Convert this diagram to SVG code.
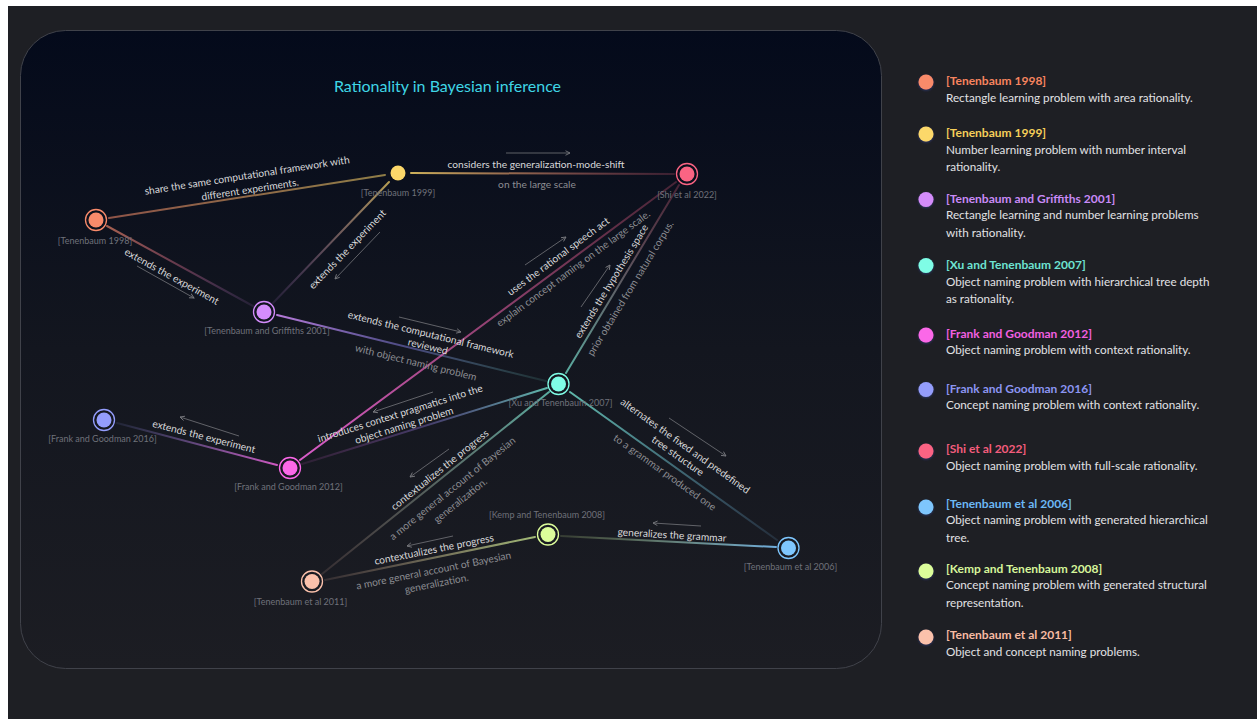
<svg xmlns="http://www.w3.org/2000/svg" width="1257" height="719" viewBox="0 0 1257 719">
<defs>
<style>
.el{font-family:Lato,"Liberation Sans",sans-serif;font-size:10.2px;fill:#d8d8da;text-anchor:middle;dominant-baseline:central}
.es{fill:#8c8d92}
.nl{font-family:Lato,"Liberation Sans",sans-serif;font-size:9px;fill:#6f717a;text-anchor:middle}
.lt{font-family:Lato,"Liberation Sans",sans-serif;font-size:12px;font-weight:bold}
.ld{font-family:Lato,"Liberation Sans",sans-serif;font-size:11.7px;fill:#e2e2e4}
.edge{fill:none;stroke-width:2;stroke-linecap:round}
.arr{fill:none;stroke:#6a6b70;stroke-width:0.9;marker-end:url(#ah)}
.ring{fill:none;stroke-width:1.3}
</style>
<marker id="ah" viewBox="0 0 8 8" refX="7" refY="4" markerWidth="6" markerHeight="6" markerUnits="userSpaceOnUse" orient="auto">
<path d="M1,1 L7,4 L1,7" fill="none" stroke="#77787d" stroke-width="1.2"/>
</marker>
<linearGradient id="panel" x1="0" y1="0" x2="0" y2="1">
<stop offset="0" stop-color="#040a1b"/>
<stop offset="0.5" stop-color="#13161f"/>
<stop offset="1" stop-color="#1c1d23"/>
</linearGradient>
<filter id="glow" x="-50%" y="-50%" width="200%" height="200%">
<feDropShadow dx="0" dy="1" stdDeviation="1.2" flood-color="#2a3a7a" flood-opacity="0.8"/>
</filter>
<linearGradient id="g1" gradientUnits="userSpaceOnUse" x1="109" y1="218" x2="385" y2="175"><stop offset="0" stop-color="#f98b6b" stop-opacity="0.55"/><stop offset="1" stop-color="#fcd86a" stop-opacity="0.55"/></linearGradient>
<linearGradient id="g2" gradientUnits="userSpaceOnUse" x1="411" y1="173" x2="674" y2="174"><stop offset="0" stop-color="#fcd86a" stop-opacity="0.8"/><stop offset="1" stop-color="#fb6483" stop-opacity="0.2"/></linearGradient>
<linearGradient id="g3" gradientUnits="userSpaceOnUse" x1="107" y1="226" x2="253" y2="306"><stop offset="0" stop-color="#f98b6b" stop-opacity="0.65"/><stop offset="0.5" stop-color="#e07090" stop-opacity="0.4"/><stop offset="1" stop-color="#d48cfb" stop-opacity="0.1"/></linearGradient>
<linearGradient id="g4" gradientUnits="userSpaceOnUse" x1="273" y1="303" x2="389" y2="182"><stop offset="0" stop-color="#d48cfb" stop-opacity="0.1"/><stop offset="1" stop-color="#fcd86a" stop-opacity="0.7"/></linearGradient>
<linearGradient id="g5" gradientUnits="userSpaceOnUse" x1="277" y1="315" x2="546" y2="381"><stop offset="0" stop-color="#d48cfb" stop-opacity="0.85"/><stop offset="0.5" stop-color="#8a86f0" stop-opacity="0.45"/><stop offset="1" stop-color="#7ffde6" stop-opacity="0.1"/></linearGradient>
<linearGradient id="g6" gradientUnits="userSpaceOnUse" x1="300" y1="460" x2="676" y2="182"><stop offset="0" stop-color="#fb68e8" stop-opacity="0.85"/><stop offset="1" stop-color="#fb6483" stop-opacity="0.25"/></linearGradient>
<linearGradient id="g7" gradientUnits="userSpaceOnUse" x1="566" y1="373" x2="679" y2="185"><stop offset="0" stop-color="#7ffde6" stop-opacity="0.65"/><stop offset="1" stop-color="#fb6483" stop-opacity="0.25"/></linearGradient>
<linearGradient id="g8" gradientUnits="userSpaceOnUse" x1="547" y1="388" x2="302" y2="464"><stop offset="0" stop-color="#7ffde6" stop-opacity="0.7"/><stop offset="0.5" stop-color="#9a80f0" stop-opacity="0.35"/><stop offset="1" stop-color="#fb68e8" stop-opacity="0.1"/></linearGradient>
<linearGradient id="g9" gradientUnits="userSpaceOnUse" x1="117" y1="423" x2="277" y2="465"><stop offset="0" stop-color="#949dfc" stop-opacity="0.1"/><stop offset="1" stop-color="#fb68e8" stop-opacity="0.8"/></linearGradient>
<linearGradient id="g10" gradientUnits="userSpaceOnUse" x1="549" y1="392" x2="322" y2="574"><stop offset="0" stop-color="#7ffde6" stop-opacity="0.65"/><stop offset="1" stop-color="#fbc1ab" stop-opacity="0.12"/></linearGradient>
<linearGradient id="g11" gradientUnits="userSpaceOnUse" x1="570" y1="392" x2="777" y2="540"><stop offset="0" stop-color="#7ffde6" stop-opacity="0.7"/><stop offset="1" stop-color="#7ec6fd" stop-opacity="0.12"/></linearGradient>
<linearGradient id="g12" gradientUnits="userSpaceOnUse" x1="535" y1="537" x2="325" y2="580"><stop offset="0" stop-color="#dcfd9a" stop-opacity="0.7"/><stop offset="1" stop-color="#fbc1ab" stop-opacity="0.12"/></linearGradient>
<linearGradient id="g13" gradientUnits="userSpaceOnUse" x1="776" y1="547" x2="561" y2="536"><stop offset="0" stop-color="#7ec6fd" stop-opacity="0.85"/><stop offset="1" stop-color="#dcfd9a" stop-opacity="0.15"/></linearGradient>
</defs>

<rect x="0" y="0" width="1257" height="719" fill="#ffffff"/>
<rect x="8" y="6" width="1249" height="713" fill="#1e1f24"/>
<rect x="20.5" y="30.5" width="861" height="638" rx="45" ry="45" fill="url(#panel)" stroke="#40424a" stroke-width="1"/>

<text x="447.5" y="91.5" font-family="Lato,'Liberation Sans',sans-serif" font-size="16" fill="#3fd6e6" text-anchor="middle">Rationality in Bayesian inference</text>

<g id="connectors">
<line class="edge" x1="109" y1="218" x2="385" y2="175" stroke="url(#g1)"/>
<line class="edge" x1="411" y1="173" x2="674" y2="174" stroke="url(#g2)"/>
<line class="edge" x1="107" y1="226" x2="253" y2="306" stroke="url(#g3)"/>
<line class="edge" x1="273" y1="303" x2="389" y2="182" stroke="url(#g4)"/>
<line class="edge" x1="277" y1="315" x2="546" y2="381" stroke="url(#g5)"/>
<line class="edge" x1="300" y1="460" x2="676" y2="182" stroke="url(#g6)"/>
<line class="edge" x1="566" y1="373" x2="679" y2="185" stroke="url(#g7)"/>
<line class="edge" x1="547" y1="388" x2="302" y2="464" stroke="url(#g8)"/>
<line class="edge" x1="117" y1="423" x2="277" y2="465" stroke="url(#g9)"/>
<line class="edge" x1="549" y1="392" x2="322" y2="574" stroke="url(#g10)"/>
<line class="edge" x1="570" y1="392" x2="777" y2="540" stroke="url(#g11)"/>
<line class="edge" x1="535" y1="537" x2="325" y2="580" stroke="url(#g12)"/>
<line class="edge" x1="776" y1="547" x2="561" y2="536" stroke="url(#g13)"/>

<line class="arr" x1="506" y1="153" x2="570" y2="153"/>
<line class="arr" x1="137" y1="266" x2="194" y2="298"/>
<line class="arr" x1="380" y1="232" x2="335" y2="279"/>
<line class="arr" x1="399" y1="317" x2="461" y2="332"/>
<line class="arr" x1="525" y1="265" x2="566" y2="237"/>
<line class="arr" x1="581" y1="307" x2="610" y2="265"/>
<line class="arr" x1="433" y1="392" x2="373" y2="412"/>
<line class="arr" x1="239" y1="436" x2="180" y2="417"/>
<line class="arr" x1="449" y1="449" x2="410" y2="477"/>
<line class="arr" x1="669" y1="418" x2="726" y2="456"/>
<line class="arr" x1="453" y1="536" x2="407" y2="546"/>
<line class="arr" x1="701" y1="526" x2="653" y2="523"/>

<text class="el" transform="translate(247,175) rotate(-8.8)">share the same computational framework with</text>
<text class="el" transform="translate(250,189) rotate(-8.8)">different experiments.</text>
<text class="el" x="536" y="164">considers the generalization-mode-shift</text>
<text class="el es" x="537" y="184">on the large scale</text>
<text class="el" transform="translate(172,276) rotate(28.7)">extends the experiment</text>
<text class="el" transform="translate(347,249) rotate(-46)">extends the experiment</text>
<text class="el" transform="translate(431,334) rotate(13.7)">extends the computational framework</text>
<text class="el" transform="translate(428,346) rotate(13.7)">reviewed</text>
<text class="el es" transform="translate(416,362) rotate(13.7)">with object naming problem</text>
<text class="el" transform="translate(558,256) rotate(-36.5)">uses the rational speech act</text>
<text class="el es" transform="translate(573,268) rotate(-36.5)">explain concept naming on the large scale.</text>
<text class="el" transform="translate(611,281) rotate(-58.6)">extends the hypothesis space</text>
<text class="el es" transform="translate(630,288) rotate(-58.6)">prior obtained from natural corpus.</text>
<text class="el" transform="translate(400,413) rotate(-17.3)">introduces context pragmatics into the</text>
<text class="el" transform="translate(404,425) rotate(-17.3)">object naming problem</text>
<text class="el" transform="translate(204,436) rotate(14.5)">extends the experiment</text>
<text class="el" transform="translate(439.5,469.5) rotate(-38.7)">contextualizes the progress</text>
<text class="el es" transform="translate(452,488) rotate(-38.7)">a more general account of Bayesian</text>
<text class="el es" transform="translate(460,500) rotate(-38.7)">generalization.</text>
<text class="el" transform="translate(685.5,445.5) rotate(35.5)">alternates the fixed and predefined</text>
<text class="el" transform="translate(678,455.5) rotate(35.5)">tree structure</text>
<text class="el es" transform="translate(665,472) rotate(35.5)">to a grammar produced one</text>
<text class="el" transform="translate(434,549) rotate(-11.3)">contextualizes the progress</text>
<text class="el es" transform="translate(433.5,570) rotate(-11.3)">a more general account of Bayesian</text>
<text class="el es" transform="translate(436.5,583) rotate(-11.3)">generalization.</text>
<text class="el" transform="translate(672,534.5) rotate(3.3)">generalizes the grammar</text>
</g>

<g id="n-tenenbaum1998">
<circle class="ring" cx="96" cy="220" r="10.5" stroke="#f98b6b"/>
<circle cx="96" cy="220" r="7.5" fill="#f98b6b"/>
<text class="nl" x="95" y="244">[Tenenbaum 1998]</text>
</g>
<g id="n-tenenbaum1999">
<circle cx="398" cy="173" r="7.5" fill="#fcd86a"/>
<text class="nl" x="398" y="196">[Tenenbaum 1999]</text>
</g>
<g id="n-griffiths2001">
<circle class="ring" cx="264" cy="312" r="10.5" stroke="#d48cfb"/>
<circle cx="264" cy="312" r="7.5" fill="#d48cfb"/>
<text class="nl" x="267" y="334">[Tenenbaum and Griffiths 2001]</text>
</g>
<g id="n-shi2022">
<circle class="ring" cx="687" cy="174" r="10.5" stroke="#fb6483"/>
<circle cx="687" cy="174" r="7.5" fill="#fb6483"/>
<text class="nl" x="687" y="198">[Shi et al 2022]</text>
</g>
<g id="n-xu2007">
<circle class="ring" cx="558.5" cy="384" r="10.5" stroke="#7ffde6"/>
<circle cx="558.5" cy="384" r="7.5" fill="#7ffde6"/>
<text class="nl" x="560.5" y="406">[Xu and Tenenbaum 2007]</text>
</g>
<g id="n-frank2016">
<circle class="ring" cx="104" cy="420" r="10.5" stroke="#949dfc"/>
<circle cx="104" cy="420" r="7.5" fill="#949dfc"/>
<text class="nl" x="102.5" y="442">[Frank and Goodman 2016]</text>
</g>
<g id="n-frank2012">
<circle class="ring" cx="290" cy="468" r="10.5" stroke="#fb68e8"/>
<circle cx="290" cy="468" r="7.5" fill="#fb68e8"/>
<text class="nl" x="288.5" y="490">[Frank and Goodman 2012]</text>
</g>
<g id="n-kemp2008">
<circle class="ring" cx="548" cy="534.5" r="10.5" stroke="#dcfd9a"/>
<circle cx="548" cy="534.5" r="7.5" fill="#dcfd9a"/>
<text class="nl" x="547" y="518">[Kemp and Tenenbaum 2008]</text>
</g>
<g id="n-tenenbaum2006">
<circle class="ring" cx="788.5" cy="548" r="10.5" stroke="#7ec6fd"/>
<circle cx="788.5" cy="548" r="7.5" fill="#7ec6fd"/>
<text class="nl" x="790.5" y="570">[Tenenbaum et al 2006]</text>
</g>
<g id="n-tenenbaum2011">
<circle class="ring" cx="312" cy="581.5" r="10.5" stroke="#fbc1ab"/>
<circle cx="312" cy="581.5" r="7.5" fill="#fbc1ab"/>
<text class="nl" x="300.5" y="605">[Tenenbaum et al 2011]</text>
</g>

<g id="legend">
<g id="lg-1998"><circle cx="926" cy="82" r="7.5" fill="#f98b6b" filter="url(#glow)"/><text class="lt" x="946" y="85" fill="#f7845f">[Tenenbaum 1998]</text><text class="ld" x="946" y="101.5">Rectangle learning problem with area rationality.</text></g>
<g id="lg-1999"><circle cx="926" cy="134" r="7.5" fill="#fcd86a" filter="url(#glow)"/><text class="lt" x="946" y="137" fill="#f5cf5a">[Tenenbaum 1999]</text><text class="ld" x="946" y="154">Number learning problem with number interval</text><text class="ld" x="946" y="171">rationality.</text></g>
<g id="lg-2001"><circle cx="926" cy="199.5" r="7.5" fill="#d48cfb" filter="url(#glow)"/><text class="lt" x="946" y="202.5" fill="#c98af7">[Tenenbaum and Griffiths 2001]</text><text class="ld" x="946" y="219">Rectangle learning and number learning problems</text><text class="ld" x="946" y="236.5">with rationality.</text></g>
<g id="lg-2007"><circle cx="926" cy="265.5" r="7.5" fill="#7ffde6" filter="url(#glow)"/><text class="lt" x="946" y="269" fill="#6ee3d2">[Xu and Tenenbaum 2007]</text><text class="ld" x="946" y="286">Object naming problem with hierarchical tree depth</text><text class="ld" x="946" y="302.5">as rationality.</text></g>
<g id="lg-2012"><circle cx="926" cy="335" r="7.5" fill="#fb68e8" filter="url(#glow)"/><text class="lt" x="946" y="337.5" fill="#f25fe0">[Frank and Goodman 2012]</text><text class="ld" x="946" y="354">Object naming problem with context rationality.</text></g>
<g id="lg-2016"><circle cx="926" cy="389.5" r="7.5" fill="#949dfc" filter="url(#glow)"/><text class="lt" x="946" y="392.5" fill="#8c95f2">[Frank and Goodman 2016]</text><text class="ld" x="946" y="409">Concept naming problem with context rationality.</text></g>
<g id="lg-2022"><circle cx="926" cy="451" r="7.5" fill="#fb6483" filter="url(#glow)"/><text class="lt" x="946" y="453" fill="#f45c7c">[Shi et al 2022]</text><text class="ld" x="946" y="470">Object naming problem with full-scale rationality.</text></g>
<g id="lg-2006"><circle cx="926" cy="507" r="7.5" fill="#7ec6fd" filter="url(#glow)"/><text class="lt" x="946" y="507.5" fill="#6cb8f5">[Tenenbaum et al 2006]</text><text class="ld" x="946" y="524">Object naming problem with generated hierarchical</text><text class="ld" x="946" y="541.5">tree.</text></g>
<g id="lg-2008"><circle cx="926" cy="571" r="7.5" fill="#dcfd9a" filter="url(#glow)"/><text class="lt" x="946" y="572.5" fill="#d6f59a">[Kemp and Tenenbaum 2008]</text><text class="ld" x="946" y="589">Concept naming problem with generated structural</text><text class="ld" x="946" y="606.5">representation.</text></g>
<g id="lg-2011"><circle cx="926" cy="637" r="7.5" fill="#fbc1ab" filter="url(#glow)"/><text class="lt" x="946" y="639" fill="#f7bba3">[Tenenbaum et al 2011]</text><text class="ld" x="946" y="656">Object and concept naming problems.</text></g>
</g>
</svg>
